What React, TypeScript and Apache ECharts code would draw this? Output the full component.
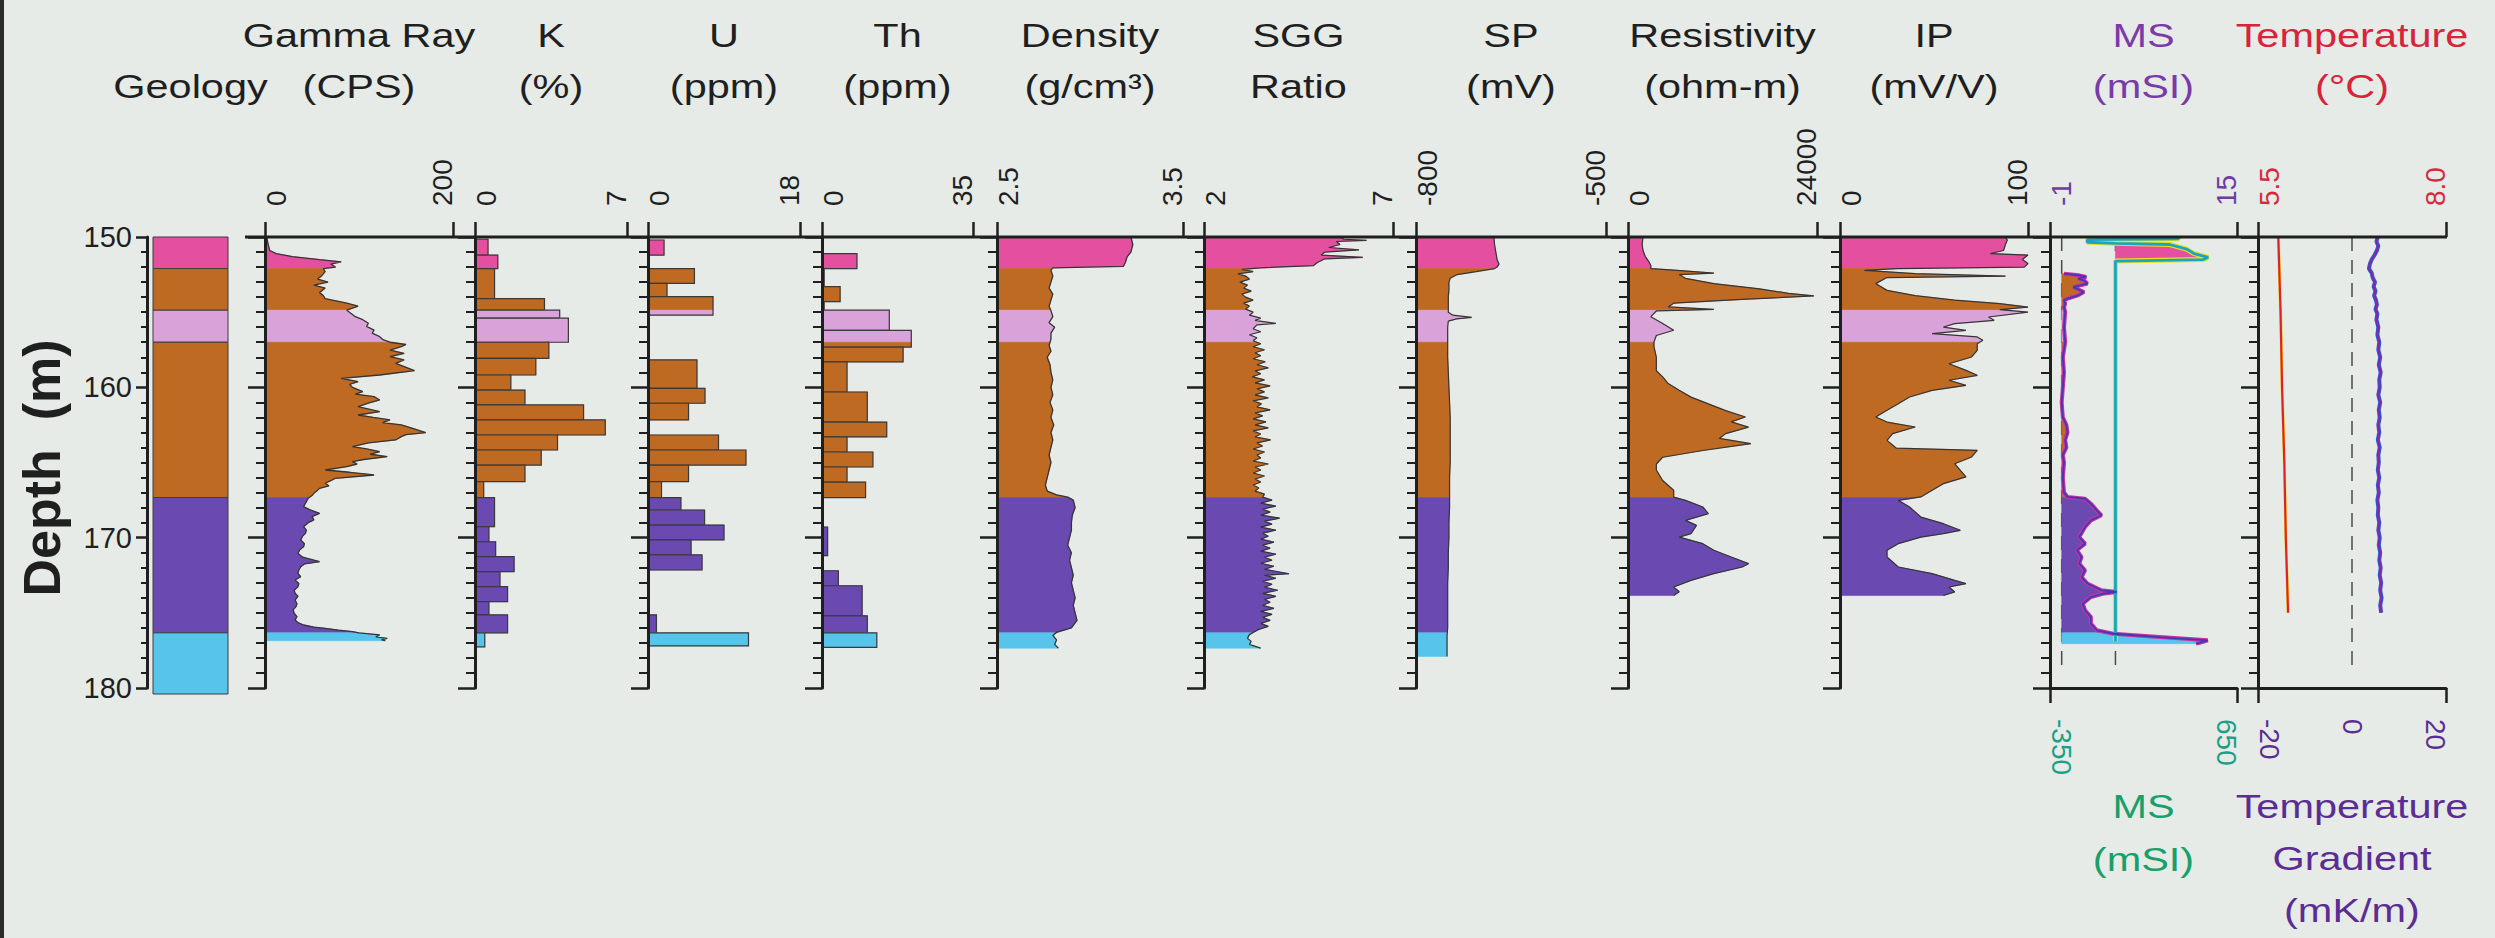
import React, { useEffect, useRef } from 'react';
import * as echarts from 'echarts';

// ---------------- DATA (depth in m, value in track units) ----------------
const UNIT_TOPS = [150, 152.1, 154.87, 157.0, 167.33, 176.33];
const GEOLOGY_BOTTOM = 180.4;

const gammaLog = [
  [150.0, 2], [150.4, 3], [150.9, 5], [151.1, 12], [151.3, 29], [151.5, 58], [151.65, 81], [151.8, 70], [152.0, 75], [152.1, 62],
  [152.3, 64], [152.6, 60], [152.8, 56], [153.0, 67], [153.2, 52], [153.4, 64], [153.7, 58], [153.9, 62], [154.1, 64], [154.4, 87],
  [154.6, 99], [154.87, 87], [155.1, 92], [155.3, 96], [155.5, 104], [155.74, 110], [155.95, 108], [156.19, 116], [156.4, 114],
  [156.63, 122], [156.85, 126], [157.0, 133], [157.15, 150], [157.29, 145], [157.52, 133], [157.74, 148], [157.96, 133], [158.18, 148],
  [158.4, 139], [158.62, 148], [158.89, 159], [159.18, 122], [159.4, 81], [159.62, 99], [159.8, 90], [160.0, 93], [160.29, 104],
  [160.45, 96], [160.62, 116], [160.84, 122], [161.05, 110], [161.29, 99], [161.62, 122], [161.84, 99], [162.0, 115], [162.17, 133],
  [162.35, 125], [162.5, 145], [162.73, 157], [163.01, 171], [163.15, 150], [163.28, 145], [163.5, 139], [163.7, 110], [163.95, 93],
  [164.1, 108], [164.28, 122], [164.45, 112], [164.61, 130], [164.8, 105], [164.94, 93], [165.1, 98], [165.28, 87], [165.5, 64],
  [165.65, 90], [165.83, 116], [166.05, 75], [166.2, 70], [166.38, 64], [166.55, 68], [166.72, 58], [166.9, 55], [167.05, 52],
  [167.2, 50], [167.38, 46], [167.6, 44], [167.94, 41], [168.15, 48], [168.38, 58], [168.6, 50], [168.82, 52], [169.0, 46],
  [169.27, 41], [169.5, 44], [169.71, 43], [169.9, 40], [170.15, 38], [170.4, 42], [170.6, 41], [170.8, 37], [171.04, 35],
  [171.3, 40], [171.6, 58], [171.75, 42], [171.93, 38], [172.15, 36], [172.37, 35], [172.6, 38], [172.82, 32], [173.05, 36],
  [173.26, 35], [173.5, 31], [173.7, 32], [173.9, 35], [174.15, 32], [174.4, 34], [174.59, 33], [174.8, 30], [175.03, 31],
  [175.25, 34], [175.48, 32], [175.65, 35], [175.81, 41], [175.95, 52], [176.03, 64], [176.15, 78], [176.25, 93], [176.33, 100],
  [176.47, 122], [176.6, 118], [176.7, 130], [176.8, 124], [176.85, 128],
];

// step logs: interval tops, values (null = no data), bottom of last interval
const kTops = [150.15, 151.2, 152.1, 154.1, 154.87, 155.4, 157.0, 158.07, 159.18, 160.18, 161.17, 162.17, 163.17, 164.17, 165.17, 166.27, 167.33, 169.27, 170.27, 171.26, 172.26, 173.26, 174.26, 175.14, 176.33];
const kVals = [0.6, 1.05, 0.9, 3.2, 3.9, 4.3, 3.4, 2.8, 1.65, 2.3, 5.0, 6.0, 3.8, 3.05, 2.3, 0.4, 0.9, 0.64, 0.95, 1.8, 1.15, 1.5, 0.64, 1.5, 0.45];
const kEnd = 177.27;

const uTops = [150.2, 151.2, 152.1, 153.08, 153.97, 155.2, 158.18, 160.07, 161.06, 162.17, 163.17, 164.17, 165.17, 166.27, 167.33, 168.16, 169.16, 170.15, 171.15, 172.15, 175.14, 176.33];
const uVals = [1.9, null, 5.5, 2.25, 7.7, null, 5.8, 6.75, 4.8, null, 8.35, 11.6, 4.8, 1.6, 3.9, 6.7, 9.0, 5.1, 6.4, null, 1.0, 11.9];
const uEnd = 177.2;

const thTops = [151.1, 152.1, 153.3, 154.3, 154.87, 156.21, 157.32, 158.31, 160.31, 162.31, 163.3, 164.3, 165.3, 166.3, 167.33, 169.3, 171.2, 172.2, 173.2, 175.2, 176.33];
const thVals = [8.1, 0.5, 4.2, 0.5, 15.6, 20.7, 18.8, 5.8, 10.5, 15.0, 5.8, 11.8, 5.8, 10.1, null, 1.3, null, 3.8, 9.3, 10.5, 12.7];
const thEnd = 177.3;

const densityLog = [
  [150.0, 3.22], [150.5, 3.23], [151.0, 3.22], [151.3, 3.2], [151.7, 3.19], [151.95, 3.18], [152.05, 2.8], [152.2, 2.79],
  [152.6, 2.8], [153.0, 2.79], [153.4, 2.78], [153.8, 2.8], [154.2, 2.79], [154.6, 2.78], [154.9, 2.79], [155.3, 2.8],
  [155.7, 2.78], [156.0, 2.81], [156.4, 2.79], [156.8, 2.79], [157.2, 2.78], [157.6, 2.79], [158.0, 2.77], [158.5, 2.785],
  [159.0, 2.79], [159.5, 2.8], [160.0, 2.79], [160.5, 2.8], [161.0, 2.785], [161.5, 2.8], [162.0, 2.79], [162.5, 2.805],
  [163.0, 2.79], [163.5, 2.8], [164.0, 2.79], [164.5, 2.78], [165.0, 2.79], [165.5, 2.78], [166.0, 2.77], [166.5, 2.76],
  [166.9, 2.77], [167.15, 2.82], [167.3, 2.88], [167.5, 2.91], [168.0, 2.92], [168.5, 2.905], [169.0, 2.9], [169.5, 2.9],
  [170.0, 2.89], [170.5, 2.88], [171.0, 2.9], [171.5, 2.89], [172.0, 2.9], [172.5, 2.91], [173.0, 2.9], [173.5, 2.91],
  [174.0, 2.92], [174.5, 2.91], [175.0, 2.92], [175.5, 2.93], [176.0, 2.9], [176.3, 2.82], [176.5, 2.8], [176.8, 2.82],
  [177.1, 2.81], [177.35, 2.83],
];

const sggLog = [
  [150.0, 5.6], [150.15, 5.7], [150.22, 6.3], [150.3, 5.5], [150.5, 5.6], [150.7, 5.3], [150.85, 6.1], [151.0, 5.2], [151.2, 5.1],
  [151.35, 6.2], [151.45, 5.2], [151.7, 5.0], [151.9, 4.9], [152.05, 3.5], [152.15, 3.0], [152.3, 3.3], [152.45, 2.9], [152.6, 3.1],
  [152.8, 3.2], [153.0, 2.95], [153.2, 3.15], [153.4, 3.05], [153.6, 3.25], [153.8, 3.0], [154.0, 3.1], [154.2, 3.3], [154.4, 3.05],
  [154.6, 3.2], [154.8, 3.1], [155.0, 3.3], [155.2, 3.2], [155.4, 3.5], [155.55, 3.35], [155.75, 3.9], [155.85, 3.4], [156.1, 3.3],
  [156.3, 3.5], [156.5, 3.2], [156.7, 3.4], [156.9, 3.3], [157.1, 3.5], [157.3, 3.3], [157.5, 3.6], [157.7, 3.35], [157.9, 3.5],
  [158.1, 3.3], [158.3, 3.62], [158.5, 3.4], [158.7, 3.7], [158.9, 3.35], [159.1, 3.5], [159.3, 3.28], [159.5, 3.6], [159.7, 3.35],
  [159.9, 3.75], [160.1, 3.4], [160.3, 3.6], [160.5, 3.35], [160.7, 3.7], [160.9, 3.3], [161.1, 3.52], [161.3, 3.4], [161.5, 3.75],
  [161.7, 3.35], [161.9, 3.55], [162.1, 3.3], [162.3, 3.64], [162.5, 3.35], [162.7, 3.7], [162.9, 3.3], [163.1, 3.5], [163.3, 3.35],
  [163.5, 3.76], [163.7, 3.4], [163.9, 3.55], [164.1, 3.3], [164.3, 3.6], [164.5, 3.4], [164.7, 3.5], [164.9, 3.3], [165.1, 3.7],
  [165.3, 3.35], [165.5, 3.5], [165.7, 3.3], [165.9, 3.6], [166.1, 3.35], [166.3, 3.5], [166.5, 3.3], [166.7, 3.45], [166.9, 3.35],
  [167.1, 3.6], [167.3, 3.55], [167.5, 3.8], [167.7, 3.5], [167.9, 3.9], [168.1, 3.55], [168.3, 3.75], [168.5, 3.5], [168.7, 4.0],
  [168.9, 3.6], [169.1, 3.8], [169.3, 3.5], [169.5, 3.9], [169.7, 3.55], [169.9, 3.7], [170.1, 3.5], [170.3, 3.85], [170.5, 3.55],
  [170.7, 3.75], [170.9, 3.5], [171.1, 3.9], [171.3, 3.6], [171.5, 3.8], [171.7, 3.5], [171.9, 3.85], [172.1, 3.6], [172.4, 4.25],
  [172.5, 3.6], [172.7, 3.9], [172.9, 3.55], [173.1, 3.8], [173.3, 3.6], [173.5, 3.95], [173.7, 3.55], [173.9, 3.9], [174.1, 3.6],
  [174.3, 3.75], [174.5, 3.55], [174.7, 3.85], [174.9, 3.5], [175.1, 3.8], [175.3, 3.55], [175.5, 3.75], [175.7, 3.5], [175.9, 3.7],
  [176.1, 3.45], [176.3, 3.3], [176.45, 3.2], [176.7, 3.15], [176.9, 3.25], [177.1, 3.2], [177.35, 3.5],
];

const spLog = [
  [150.0, -677], [150.5, -676], [151.0, -674], [151.5, -672], [151.8, -669], [152.0, -672], [152.1, -676], [152.3, -705],
  [152.5, -735], [152.75, -746], [153.0, -748], [153.5, -748], [154.0, -749], [154.5, -749], [154.85, -749], [155.0, -749],
  [155.2, -742], [155.35, -712], [155.45, -736], [155.6, -749], [156.0, -750], [156.5, -750], [157.0, -750], [158.0, -750],
  [159.0, -749], [160.0, -748], [161.0, -747], [162.0, -746], [163.0, -746], [164.0, -746], [165.0, -746], [166.0, -747],
  [167.0, -747], [168.0, -747], [169.0, -748], [170.0, -748], [171.0, -749], [172.0, -749], [173.0, -750], [174.0, -750],
  [175.0, -750], [176.0, -750], [176.5, -751], [177.0, -751], [177.9, -751],
];

const resistivityLog = [
  [150.0, 1900], [150.5, 1800], [150.9, 1900], [151.3, 2200], [151.6, 2600], [151.9, 2900], [152.1, 2900], [152.2, 5800],
  [152.4, 10900], [152.5, 6500], [152.75, 7300], [153.1, 10900], [153.45, 16700], [153.75, 20400], [153.92, 23600], [154.15, 14500],
  [154.4, 5800], [154.65, 5100], [154.82, 10900], [154.92, 3600], [155.3, 2900], [155.75, 4400], [156.2, 5800], [156.55, 3600],
  [156.98, 3300], [157.3, 3300], [158.0, 3600], [158.9, 3600], [159.3, 4400], [159.75, 5100], [160.2, 6500], [160.65, 8000],
  [161.1, 10200], [161.55, 12400], [161.97, 14900], [162.3, 13100], [162.65, 15300], [163.08, 12400], [163.4, 11600], [163.75, 15600],
  [164.2, 9500], [164.65, 4400], [165.1, 3600], [165.5, 3600], [166.2, 4400], [166.85, 5800], [167.3, 5800], [167.52, 7300],
  [167.96, 9500], [168.4, 10200], [168.85, 7300], [169.18, 8700], [169.73, 8000], [169.96, 6500], [170.4, 9500], [170.84, 10900],
  [171.29, 13100], [171.73, 15300], [171.95, 14500], [172.39, 10900], [172.84, 8000], [173.28, 5800], [173.6, 6500], [173.85, 5800],
];

const ipLog = [
  [150.0, 88], [150.2, 89], [150.5, 88], [150.9, 87], [151.1, 80], [151.2, 100], [151.5, 97], [151.77, 100], [152.0, 98],
  [152.1, 30], [152.22, 13], [152.44, 40], [152.6, 88], [152.7, 25], [153.1, 19], [153.55, 25], [153.9, 40], [154.2, 61],
  [154.43, 85], [154.66, 100], [154.83, 85], [155.0, 100], [155.32, 79], [155.54, 82], [155.76, 61], [155.99, 55], [156.21, 67],
  [156.43, 49], [156.65, 73], [156.87, 76], [157.1, 73], [157.54, 73], [157.98, 70], [158.43, 58], [158.87, 67], [159.2, 73],
  [159.53, 58], [159.87, 67], [160.2, 49], [160.64, 37], [161.09, 31], [161.53, 25], [161.97, 19], [162.31, 25], [162.64, 40],
  [163.08, 28], [163.53, 25], [164.05, 30], [164.19, 73], [164.63, 70], [165.08, 61], [165.52, 64], [165.96, 67], [166.41, 55],
  [166.85, 49], [167.29, 43], [167.52, 31], [167.96, 37], [168.63, 43], [169.07, 55], [169.51, 64], [169.73, 55], [169.96, 43],
  [170.4, 31], [170.84, 25], [171.29, 25], [171.95, 31], [172.39, 49], [172.84, 61], [173.06, 67], [173.28, 58], [173.61, 61],
  [173.85, 55],
];

const msLog = [
  [152.44, 0.2], [152.55, 1.5], [152.66, 2.1], [152.77, 1.4], [152.88, 1.9], [153.1, 2.2], [153.33, 1.0], [153.66, 1.9],
  [153.88, 1.4], [154.1, 0.5], [154.21, 0.2], [154.43, 0.3], [154.66, 0.2], [155.0, 0.3], [156.0, 0.2], [157.0, 0.3],
  [158.0, 0.1], [159.0, 0.2], [160.0, 0.1], [161.0, 0.0], [162.0, 0.1], [162.5, 0.4], [163.0, 0.5], [163.5, 0.3], [164.0, 0.4],
  [164.5, 0.1], [165.0, 0.2], [166.0, 0.1], [167.0, 0.2], [167.29, 0.5], [167.41, 2.0], [167.74, 2.5], [168.18, 3.0],
  [168.51, 3.4], [168.85, 2.5], [169.29, 2.0], [169.96, 1.5], [170.4, 2.0], [170.84, 1.3], [171.29, 1.7], [171.73, 1.5],
  [172.17, 2.0], [172.62, 1.7], [173.06, 2.2], [173.5, 3.4], [173.61, 4.7], [173.73, 3.5], [173.95, 2.5], [174.39, 1.8],
  [174.83, 2.0], [175.28, 2.5], [175.72, 2.5], [176.16, 3.0], [176.39, 4.4], [176.61, 8.4], [176.83, 12.5], [177.0, 11.8],
  [177.05, 11.5],
];

const msWideLog = [
  [150.0, 340], [150.12, 335], [150.18, -150], [150.35, -150], [150.42, 0], [150.5, 290], [150.8, 380], [151.1, 420],
  [151.35, 496], [151.5, 470], [151.6, 0], [176.9, 0],
];

const temperatureLog = [[150.0, 5.77], [155.0, 5.8], [160.0, 5.82], [165.0, 5.85], [170.0, 5.87], [175.0, 5.9]];

const gradientLog = [
  [150.0, 5.5], [150.3, 5.2], [150.6, 5.6], [150.9, 5.3], [151.2, 4.8], [151.5, 4.2], [151.8, 3.8], [152.1, 3.6], [152.4, 4.2],
  [152.7, 4.4], [153.0, 4.9], [153.3, 4.6], [153.6, 5.0], [153.9, 4.7], [154.2, 5.1], [154.5, 5.3], [154.8, 5.0], [155.1, 5.4],
  [155.5, 5.2], [156.0, 5.6], [156.5, 5.4], [157.0, 5.8], [157.5, 5.6], [158.0, 6.0], [158.5, 5.7], [159.0, 6.1], [159.5, 5.8],
  [160.0, 5.9], [160.5, 5.6], [161.0, 6.0], [161.5, 5.7], [162.0, 5.9], [162.5, 5.6], [163.0, 5.8], [163.5, 5.5], [164.0, 5.9],
  [164.5, 5.6], [165.0, 5.7], [165.5, 5.5], [166.0, 5.8], [166.5, 5.5], [167.0, 5.7], [167.5, 5.4], [168.0, 5.6], [168.5, 5.5],
  [169.0, 5.8], [169.5, 5.6], [170.0, 5.9], [170.5, 5.7], [171.0, 6.0], [171.5, 5.8], [172.0, 6.1], [172.5, 5.9], [173.0, 6.2],
  [173.5, 6.0], [174.0, 6.3], [174.5, 6.0], [175.0, 6.2],
];

const TITLES_ROW1 = ['Gamma Ray', 'K', 'U', 'Th', 'Density', 'SGG', 'SP', 'Resistivity', 'IP', 'MS', 'Temperature'];
const TITLES_ROW2 = ['Geology', '(CPS)', '(%)', '(ppm)', '(ppm)', '(g/cm³)', 'Ratio', '(mV)', '(ohm-m)', '(mV/V)', '(mSI)', '(°C)'];
const BOTTOM_MS = ['MS', '(mSI)'];
const BOTTOM_TEMP = ['Temperature', 'Gradient', '(mK/m)'];

// ---------------- STYLE / LAYOUT ----------------
const UNIT_COLORS = ['#e44f9f', '#bf6a23', '#d9a3da', '#bf6a23', '#6a4ab1', '#56c4eb'];
const FONT = '"Liberation Sans", Arial, Helvetica, sans-serif';
const INK = '#1f1f1f';
const BG = '#e6ebe7';
const TOP_Y = 237;
const BOT_Y = 688;
const TITLE_SIZE = 34;
const TITLE_SCALE_X = 1.22;

const L = {
  geo: { left: 153, width: 75 },
  gamma: { left: 265, width: 188 },
  k: { left: 475, width: 152 },
  u: { left: 648, width: 152 },
  th: { left: 822, width: 151 },
  dens: { left: 997, width: 186 },
  sgg: { left: 1204, width: 189 },
  sp: { left: 1416, width: 190 },
  res: { left: 1628, width: 189 },
  ip: { left: 1840, width: 188 },
  ms: { left: 2050, width: 187 },
  temp: { left: 2258, width: 188 },
};

function interpAt(log: number[][], d: number): number {
  for (let i = 0; i < log.length - 1; i++) {
    const d0 = log[i][0], v0 = log[i][1], d1 = log[i + 1][0], v1 = log[i + 1][1];
    if (d >= d0 && d <= d1) return d1 === d0 ? v1 : v0 + ((v1 - v0) * (d - d0)) / (d1 - d0);
  }
  return d < log[0][0] ? log[0][1] : log[log.length - 1][1];
}

function clipLog(log: number[][], top: number, bot: number): number[][] {
  const a = Math.max(top, log[0][0]);
  const b = Math.min(bot, log[log.length - 1][0]);
  if (b <= a) return [];
  const pts: number[][] = [[a, interpAt(log, a)]];
  for (const p of log) if (p[0] > a && p[0] < b) pts.push(p);
  pts.push([b, interpAt(log, b)]);
  return pts;
}

function unitBottom(u: number, end: number) {
  return u + 1 < UNIT_TOPS.length ? UNIT_TOPS[u + 1] : end;
}

function buildOption() {
  const grids: any[] = [];
  const xAxes: any[] = [];
  const yAxes: any[] = [];
  const series: any[] = [];

  const addGrid = (lay: { left: number; width: number }, geo = false) => {
    grids.push({ left: lay.left, top: TOP_Y, width: lay.width, height: BOT_Y - TOP_Y });
    const gi = grids.length - 1;
    yAxes.push({
      gridIndex: gi,
      type: 'value',
      min: 150,
      max: 180,
      interval: 10,
      inverse: true,
      position: 'left',
      offset: geo ? 6 : 0,
      z: 10,
      axisLine: { show: true, onZero: false, lineStyle: { color: INK, width: 3 } },
      axisTick: { show: true, length: geo ? 11 : 17, lineStyle: { color: INK, width: 2.5 } },
      minorTick: { show: true, splitNumber: 10, length: geo ? 6 : 9, lineStyle: { color: INK, width: 2 } },
      axisLabel: geo
        ? { show: true, margin: 15, fontSize: 29, fontFamily: FONT, color: INK }
        : { show: false },
      splitLine: { show: false },
      minorSplitLine: { show: false },
    });
    return gi;
  };

  const addX = (
    gi: number,
    position: 'top' | 'bottom',
    min: number,
    max: number,
    opts: { ticks?: number[]; labels?: number[]; color?: string; digits?: number; line?: boolean; hidden?: boolean } = {}
  ) => {
    const digits = opts.digits ?? 0;
    const color = opts.color ?? INK;
    const tok = { fontSize: 28, fontFamily: FONT, color };
    // shift the end labels inwards, towards the middle of the track
    const padIn = position === 'top' ? [22, 0, 0, 0] : [0, 0, 22, 0];
    const padOut = position === 'top' ? [0, 0, 22, 0] : [22, 0, 0, 0];
    if (opts.hidden) {
      xAxes.push({ gridIndex: gi, type: 'value', min, max, show: false });
    } else {
      xAxes.push({
        gridIndex: gi,
        type: 'value',
        position,
        min,
        max,
        z: 10,
        axisLine: { show: !!opts.line, onZero: false, lineStyle: { color: INK, width: 3 } },
        axisTick: { show: true, customValues: opts.ticks ?? [min, max], length: 15, lineStyle: { color: INK, width: 2.5 } },
        axisLabel: {
          show: true,
          customValues: opts.labels ?? [min, max],
          rotate: -90,
          margin: 31,
          fontSize: 28,
          fontFamily: FONT,
          color,
          formatter: (v: number) => {
            const s = v.toFixed(digits);
            if (Math.abs(v - min) < 1e-9) return `{lo|${s}}`;
            if (Math.abs(v - max) < 1e-9) return `{hi|${s}}`;
            return `{mid|${s}}`;
          },
          rich: {
            lo: { ...tok, padding: padIn },
            hi: { ...tok, padding: padOut },
            mid: { ...tok },
          },
        },
        splitLine: { show: false },
      });
    }
    return xAxes.length - 1;
  };

  const makeFill = (log: number[][], base: number) => (params: any, api: any) => {
    const u = api.value(2) as number;
    const pts = clipLog(log, UNIT_TOPS[u], unitBottom(u, Infinity));
    if (pts.length < 2) return { type: 'group', children: [] };
    const points: number[][] = [api.coord([base, pts[0][0]])];
    for (const p of pts) points.push(api.coord([p[1], p[0]]));
    points.push(api.coord([base, pts[pts.length - 1][0]]));
    return {
      type: 'polygon',
      shape: { points },
      style: { fill: UNIT_COLORS[u], stroke: UNIT_COLORS[u], lineWidth: 0.6 },
    };
  };

  const addFill = (gi: number, xi: number, log: number[][], base: number) => {
    series.push({
      type: 'custom',
      xAxisIndex: xi,
      yAxisIndex: gi,
      z: 2,
      silent: true,
      renderItem: makeFill(log, base),
      encode: { x: 0, y: 1 },
      data: UNIT_TOPS.map((t, i) => [base, t, i]),
    });
  };

  const addLine = (gi: number, xi: number, log: number[][], color: string, width: number, z = 3, type: any = 'solid') => {
    series.push({
      type: 'line',
      xAxisIndex: xi,
      yAxisIndex: gi,
      z,
      silent: true,
      showSymbol: false,
      symbol: 'none',
      lineStyle: { color, width, type },
      data: log.map((p) => [p[1], p[0]]),
    });
  };

  const addSteps = (gi: number, xi: number, tops: number[], vals: (number | null)[], end: number, base: number) => {
    series.push({
      type: 'custom',
      xAxisIndex: xi,
      yAxisIndex: gi,
      z: 2,
      silent: true,
      encode: { x: 0, y: 1 },
      data: tops.map((t, i) => [vals[i] ?? base, t, i]),
      renderItem: (params: any, api: any) => {
        const i = api.value(2) as number;
        const v = vals[i];
        if (v == null) return { type: 'group', children: [] };
        const top = tops[i];
        const bot = i + 1 < tops.length ? tops[i + 1] : end;
        const children: any[] = [];
        for (let u = 0; u < UNIT_TOPS.length; u++) {
          const a = Math.max(top, UNIT_TOPS[u]);
          const b = Math.min(bot, unitBottom(u, Infinity));
          if (b > a) {
            const p1 = api.coord([base, a]);
            const p2 = api.coord([v, b]);
            children.push({
              type: 'rect',
              shape: { x: p1[0], y: p1[1], width: p2[0] - p1[0], height: p2[1] - p1[1] },
              style: { fill: UNIT_COLORS[u], stroke: UNIT_COLORS[u], lineWidth: 0.5 },
            });
          }
        }
        const q1 = api.coord([base, top]);
        const q2 = api.coord([v, bot]);
        children.push({
          type: 'rect',
          shape: { x: q1[0], y: q1[1], width: q2[0] - q1[0], height: q2[1] - q1[1] },
          style: { fill: 'none', stroke: '#3a3a3a', lineWidth: 1.2 },
        });
        return { type: 'group', children };
      },
    });
  };

  // Geology column
  const gGeo = addGrid(L.geo, true);
  const xGeo = addX(gGeo, 'top', 0, 1, { hidden: true });
  series.push({
    type: 'custom',
    xAxisIndex: xGeo,
    yAxisIndex: gGeo,
    z: 2,
    silent: true,
    encode: { x: 0, y: 1 },
    data: UNIT_TOPS.map((t, i) => [0, t, i]),
    renderItem: (params: any, api: any) => {
      const u = api.value(2) as number;
      const p1 = api.coord([0, UNIT_TOPS[u]]);
      const p2 = api.coord([1, unitBottom(u, GEOLOGY_BOTTOM)]);
      return {
        type: 'rect',
        shape: { x: p1[0], y: p1[1], width: p2[0] - p1[0], height: p2[1] - p1[1] },
        style: { fill: UNIT_COLORS[u], stroke: '#3d3d3d', lineWidth: 1 },
      };
    },
  });

  const OUT = '#353535';

  const gGam = addGrid(L.gamma);
  const xGam = addX(gGam, 'top', 0, 200);
  addFill(gGam, xGam, gammaLog, 0);
  addLine(gGam, xGam, gammaLog, OUT, 1.3);

  const gK = addGrid(L.k);
  const xK = addX(gK, 'top', 0, 7);
  addSteps(gK, xK, kTops, kVals, kEnd, 0);
  const gU = addGrid(L.u);
  const xU = addX(gU, 'top', 0, 18);
  addSteps(gU, xU, uTops, uVals, uEnd, 0);
  const gTh = addGrid(L.th);
  const xTh = addX(gTh, 'top', 0, 35);
  addSteps(gTh, xTh, thTops, thVals, thEnd, 0);

  const gD = addGrid(L.dens);
  const xD = addX(gD, 'top', 2.5, 3.5, { digits: 1 });
  addFill(gD, xD, densityLog, 2.5);
  addLine(gD, xD, densityLog, OUT, 1.3);

  const gS = addGrid(L.sgg);
  const xS = addX(gS, 'top', 2, 7);
  addFill(gS, xS, sggLog, 2);
  addLine(gS, xS, sggLog, OUT, 1.2);

  const gSP = addGrid(L.sp);
  const xSP = addX(gSP, 'top', -800, -500);
  addFill(gSP, xSP, spLog, -800);
  addLine(gSP, xSP, spLog, OUT, 1.2);

  const gR = addGrid(L.res);
  const xR = addX(gR, 'top', 0, 24000);
  addFill(gR, xR, resistivityLog, 0);
  addLine(gR, xR, resistivityLog, OUT, 1.2);

  const gIP = addGrid(L.ip);
  const xIP = addX(gIP, 'top', 0, 100);
  addFill(gIP, xIP, ipLog, 0);
  addLine(gIP, xIP, ipLog, OUT, 1.2);

  // MS (two scales)
  const gMS = addGrid(L.ms);
  const xMS = addX(gMS, 'top', -1, 15, { color: '#6d3aa6' });
  const xMS2 = addX(gMS, 'bottom', -350, 650, { color: '#1c9f86', line: true });
  addLine(gMS, xMS, [[150, 0], [178.5, 0]], '#4a4a4a', 1.5, 1, [14, 9]);
  addLine(gMS, xMS2, [[150, 0], [178.5, 0]], '#4a4a4a', 1.5, 1, [14, 9]);
  addFill(gMS, xMS2, msWideLog, 0);
  addFill(gMS, xMS, msLog, 0);
  addLine(gMS, xMS2, msWideLog, '#ebe01f', 5, 4);
  addLine(gMS, xMS2, msWideLog, '#16a6c6', 2.8, 5);
  addLine(gMS, xMS, msLog, '#c8349f', 4, 4);
  addLine(gMS, xMS, msLog, '#4636b4', 1.8, 5);

  // Temperature + gradient
  const gT = addGrid(L.temp);
  const xT = addX(gT, 'top', 5.5, 8.0, { color: '#d62a3c', digits: 1 });
  const xT2 = addX(gT, 'bottom', -20, 20, { color: '#5b2d94', line: true, ticks: [-20, 20], labels: [-20, 0, 20] });
  addLine(gT, xT2, [[150, 0], [178.5, 0]], '#4a4a4a', 1.5, 1, [14, 9]);
  addLine(gT, xT, temperatureLog, '#f1e21c', 3, 4);
  addLine(gT, xT, temperatureLog, '#e0202c', 2.2, 5);
  addLine(gT, xT2, gradientLog, '#2f55dc', 4, 4);
  addLine(gT, xT2, gradientLog, '#8a2896', 1.8, 5);

  // ---------- graphic: frame line, headers ----------
  const centers = [L.gamma, L.k, L.u, L.th, L.dens, L.sgg, L.sp, L.res, L.ip, L.ms, L.temp].map((t) => t.left + t.width / 2);
  const row1Colors = centers.map((_, i) => (i === 9 ? '#7a3aa8' : i === 10 ? '#d8243a' : INK));
  const txt = (text: string, x: number, y: number, fill: string) => ({
    type: 'text',
    x,
    y,
    scaleX: TITLE_SCALE_X,
    z: 50,
    style: { text, fill, fontSize: TITLE_SIZE, fontFamily: FONT, align: 'center', verticalAlign: 'middle' },
  });
  const graphic: any[] = [
    { type: 'rect', shape: { x: 0, y: 0, width: 4, height: 938 }, style: { fill: '#2b2b2b' }, z: 50 },
    { type: 'line', shape: { x1: 245, y1: TOP_Y, x2: L.temp.left + L.temp.width + 1, y2: TOP_Y }, style: { stroke: INK, lineWidth: 3 }, z: 50 },
  ];
  TITLES_ROW1.forEach((t, i) => graphic.push(txt(t, centers[i], 35, row1Colors[i])));
  TITLES_ROW2.forEach((t, i) => {
    const x = i === 0 ? L.geo.left + L.geo.width / 2 : centers[i - 1];
    const c = i === 0 ? INK : row1Colors[i - 1];
    graphic.push(txt(t, x, 86, c));
  });
  const msC = L.ms.left + L.ms.width / 2;
  const tC = L.temp.left + L.temp.width / 2;
  BOTTOM_MS.forEach((t, i) => graphic.push(txt(t, msC, 806 + i * 53, '#17a06a')));
  BOTTOM_TEMP.forEach((t, i) => graphic.push(txt(t, tC, 806 + i * 52, '#5b2d94')));
  graphic.push({
    type: 'text',
    x: 42,
    y: 468,
    rotation: Math.PI / 2,
    z: 50,
    style: { text: 'Depth  (m)', fill: INK, fontSize: 52, fontFamily: FONT, fontWeight: 'bold', align: 'center', verticalAlign: 'middle' },
  });

  return {
    animation: false,
    backgroundColor: BG,
    grid: grids,
    xAxis: xAxes,
    yAxis: yAxes,
    series,
    graphic,
  };
}

export default function App() {
  const ref = useRef<HTMLDivElement>(null);
  useEffect(() => {
    if (!ref.current) return;
    const chart = echarts.init(ref.current, null, { renderer: 'svg' });
    chart.setOption(buildOption() as any);
    return () => chart.dispose();
  }, []);
  return <div ref={ref} style={{ position: 'absolute', left: 0, top: 0, width: 2495, height: 938 }} />;
}
